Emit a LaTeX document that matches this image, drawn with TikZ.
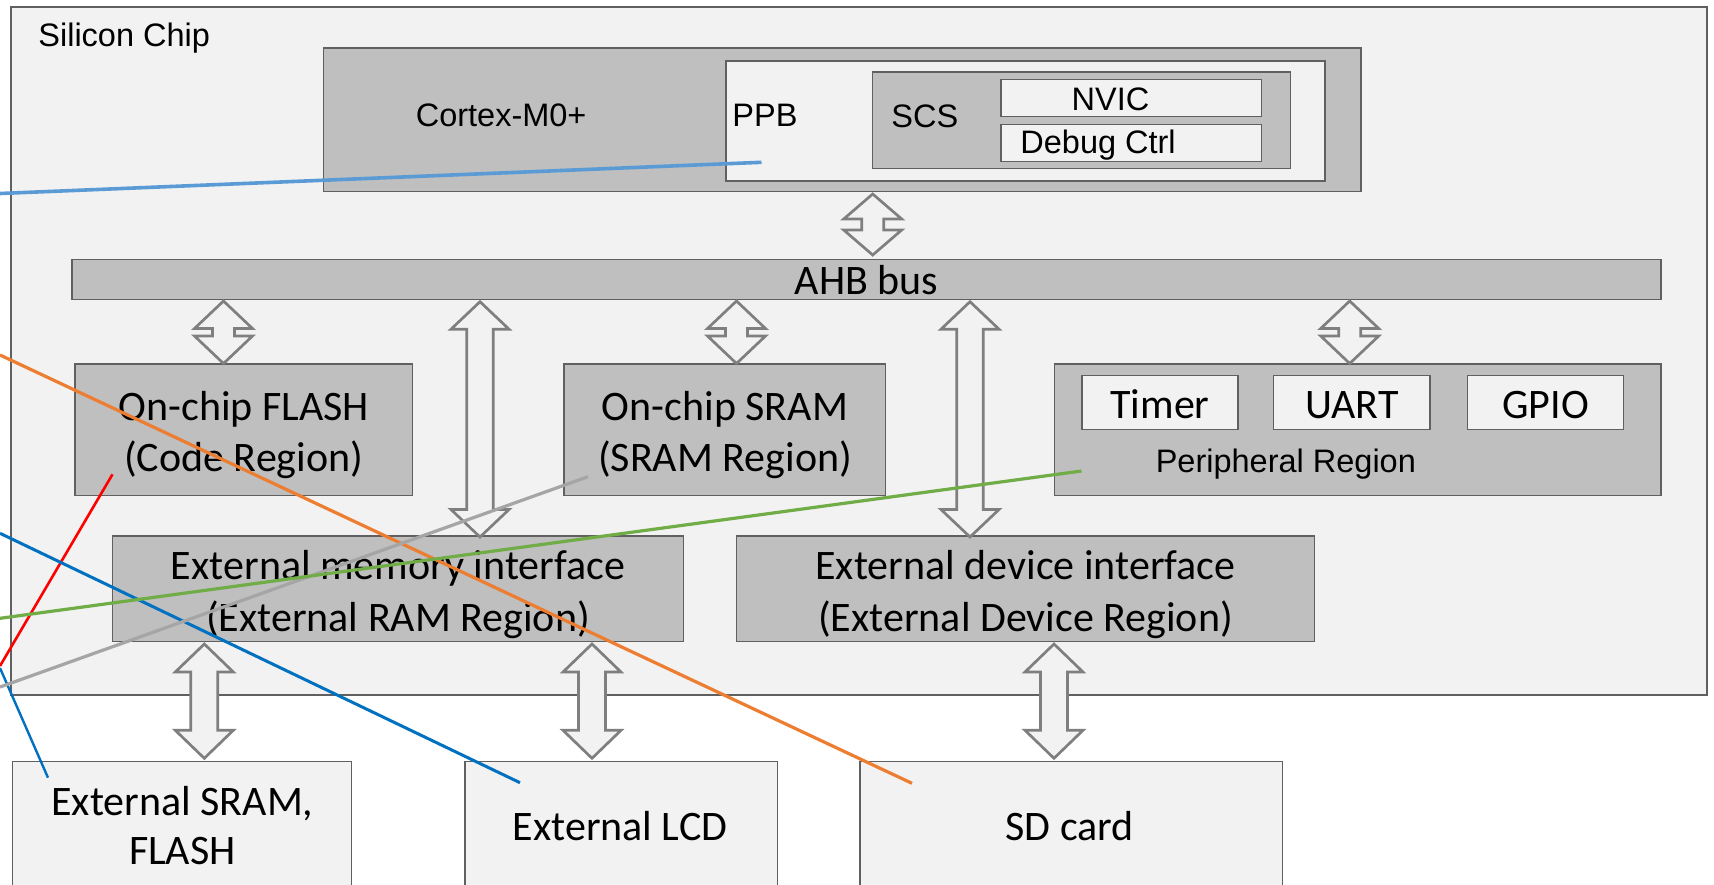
\documentclass[tikz,border=0pt]{standalone}
\usepackage{fontspec}
\setmainfont{Liberation Sans}
\newfontfamily\calib{Carlito}
\usetikzlibrary{fit,calc}
\definecolor{bgc}{HTML}{F2F2F2}
\definecolor{boxg}{HTML}{BFBFBF}
\definecolor{brd}{HTML}{606060}
\definecolor{arw}{HTML}{7F7F7F}
\definecolor{lblue}{HTML}{5B9BD5}
\definecolor{dblue}{HTML}{0070C0}
\definecolor{orng}{HTML}{ED7D31}
\definecolor{grn}{HTML}{70AD47}
\definecolor{gry}{HTML}{A5A5A5}
\definecolor{rd}{HTML}{FF0000}
\tikzset{
  chip/.style={draw=brd, fill=bgc, line width=0.75pt, inner sep=0pt},
  gbox/.style={draw=brd, fill=boxg, line width=0.6pt, inner sep=0pt},
  wbox/.style={draw=brd, fill=bgc, line width=0.6pt, inner sep=0pt},
  artxt/.style={font=\fontsize{16.25}{19}\selectfont, inner sep=0pt},
  catxt/.style={font=\calib\fontsize{21}{25}\selectfont, inner sep=0pt},
  blk/.style={draw=arw, fill=bgc, line width=1.35pt, line join=miter},
  anno/.style={line width=1.6pt, line cap=butt},
}
% block double arrow: x, ytop, ybottom, shaft half width, head length
\newcommand\dbarrow[5]{%
  \draw[blk] (#1,#2) -- (#1+29,#2+#5) -- (#1+#4,#2+#5) -- (#1+#4,#3-#5)
    -- (#1+29,#3-#5) -- (#1,#3) -- (#1-29,#3-#5) -- (#1-#4,#3-#5)
    -- (#1-#4,#2+#5) -- (#1-29,#2+#5) -- cycle;}
\begin{document}
\begin{tikzpicture}[x=0.5pt, y=-0.5pt]
\useasboundingbox (0,0) rectangle (1714,884);
\fill[white] (0,0) rectangle (1714,884);

% chip
\node[chip, fit={(11,7) (1707,695)}] (chipbox) {};
\node[artxt, anchor=base west] (chiplbl) at (38,46.7) {Silicon Chip};

% Cortex
\node[gbox, fit={(323.6,48) (1361,191.5)}] (cortex) {};
\node[artxt, anchor=base west] (cortexlbl) at (415.4,126.7) {Cortex-M0+};
\node[wbox, fit={(726,61) (1325,181)}] (ppb) {};
\node[artxt, anchor=base west] (ppblbl) at (732,126.7) {PPB};
\node[gbox, fit={(872.7,72) (1290.6,168.5)}] (scs) {};
\node[artxt, anchor=base west] (scslbl) at (891,127) {SCS};
\node[wbox, fit={(1001,79.5) (1261.5,116.3)}] (nvic) {};
\node[artxt, anchor=base] (nviclbl) at (1110.5,110.5) {NVIC};
\node[wbox, fit={(1001,124.5) (1261.5,161.3)}] (dbg) {};
\node[artxt, anchor=base west] (dbglbl) at (1020,153.8) {Debug Ctrl};

% AHB
\node[gbox, fit={(72,259.5) (1661,299.5)}] (ahb) {};
\node[catxt, anchor=base] (ahblbl) at (866.5,294.5) {AHB bus};

% memories
\node[gbox, fit={(75,364) (412.7,495.7)}] (flash) {};
\node[catxt, anchor=base] (flash1) at (243.8,420.3) {On-chip FLASH};
\node[catxt, anchor=base] (flash2) at (243.8,471.5) {(Code Region)};
\node[gbox, fit={(564,364) (885.8,495.7)}] (sram) {};
\node[catxt, anchor=base] (sram1) at (725,420.3) {On-chip SRAM};
\node[catxt, anchor=base] (sram2) at (725,471.5) {(SRAM Region)};

% peripheral
\node[gbox, fit={(1054.4,364) (1661,495.7)}] (periph) {};
\node[wbox, fit={(1082,375.7) (1238,429.3)}] (timer) {};
\node[catxt, anchor=base] (timerlbl) at (1160,418.2) {Timer};
\node[wbox, fit={(1273.7,375.7) (1430,429.3)}] (uart) {};
\node[catxt, anchor=base] (uartlbl) at (1351.8,418.2) {UART};
\node[wbox, fit={(1467.6,375.7) (1623.5,429.3)}] (gpio) {};
\node[catxt, anchor=base] (gpiolbl) at (1545.5,418.2) {GPIO};
\node[artxt, anchor=base west] (periphlbl) at (1155.4,472.2) {Peripheral Region};

% external interfaces
\node[gbox, fit={(112.5,536) (683.7,641.7)}] (extmem) {};
\node[catxt, anchor=base] (extmem1) at (398,579.5) {External memory interface};
\node[catxt, anchor=base] (extmem2) at (398,631) {(External RAM Region)};
\node[gbox, fit={(736.5,536) (1314.5,641.7)}] (extdev) {};
\node[catxt, anchor=base] (extdev1) at (1025.5,579.5) {External device interface};
\node[catxt, anchor=base] (extdev2) at (1025.5,631) {(External Device Region)};

% external devices
\node[wbox, fit={(12.4,761.3) (351.6,892)}] (xsram) {};
\node[catxt, anchor=base] (xsram1) at (182.4,815) {External SRAM,};
\node[catxt, anchor=base] (xsram2) at (182.4,864.5) {FLASH};
\node[wbox, fit={(465,761.3) (777.8,892)}] (xlcd) {};
\node[catxt, anchor=base] (xlcdlbl) at (620,840) {External LCD};
\node[wbox, fit={(860,761.3) (1282.7,892)}] (sdcard) {};
\node[catxt, anchor=base] (sdlbl) at (1069.6,840) {SD card};

% block arrows
\dbarrow{872.7}{194}{255}{11}{25}
\dbarrow{223.5}{301}{363.5}{11}{27.5}
\dbarrow{736.5}{301}{363.5}{11}{27.5}
\dbarrow{1349.7}{301}{363.5}{11}{27.5}
\dbarrow{480}{301.7}{537}{13.3}{27.5}
\dbarrow{970}{301.7}{537}{13.3}{27.5}
\dbarrow{204.3}{644}{758.3}{13.5}{28}
\dbarrow{592}{644}{758.3}{13.5}{28}
\dbarrow{1054}{644}{758.3}{13.5}{28}

% annotation lines
\coordinate (e1) at (0,193.5);
\coordinate (e2) at (0,355);
\coordinate (e3) at (0,666);
\coordinate (e4) at (0,533.3);
\coordinate (e5) at (0,668);
\coordinate (e6) at (0,687);
\coordinate (e7) at (0,618.3);
\draw[anno, lblue, line width=1.8pt] (761.5,162.3) -- (e1);
\draw[anno, orng] (e2) -- (912,783.3);
\draw[anno, rd, line width=1.3pt] (112.5,474.3) -- (e3);
\draw[anno, dblue, line width=1.5pt] (e4) -- (520,782.7);
\draw[anno, dblue, line width=1.2pt] (e5) -- (48,777.7);
\draw[anno, gry] (588,476.7) -- (e6);
\draw[anno, grn] (1081.4,471) -- (e7);
\end{tikzpicture}
\end{document}
